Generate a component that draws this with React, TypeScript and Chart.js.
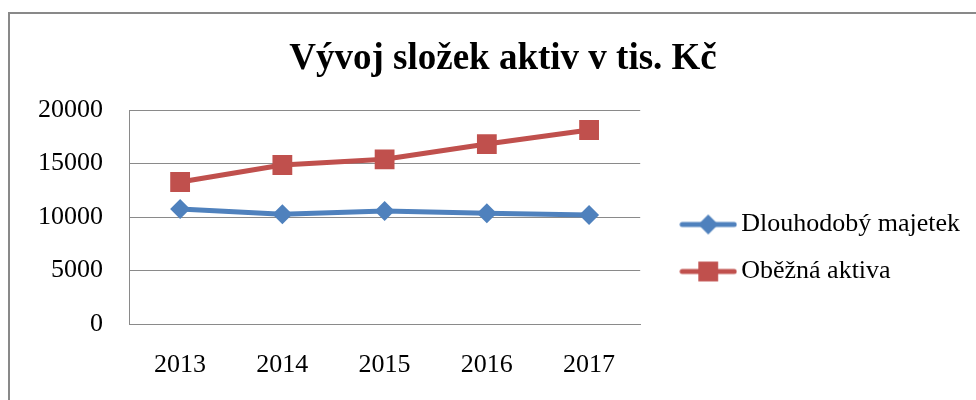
import React, { useEffect, useRef } from 'react';
import { Chart, registerables } from 'chart.js';
import { drawPoint } from 'chart.js/helpers';

Chart.register(...registerables);

const categories = ['2013', '2014', '2015', '2016', '2017'];
const dlouhodobyMajetek = [10750, 10250, 10560, 10340, 10190];
const obeznaAktiva = [13270, 14860, 15390, 16820, 18130];
const yTicks = [0, 5000, 10000, 15000, 20000];
const seriesNames = ['Dlouhodobý majetek', 'Oběžná aktiva'];
const titleText = 'Vývoj složek aktiv v tis. Kč';

const FONT = "'Liberation Serif', 'Times New Roman', serif";
const BLUE = '#4F81BD';
const RED = '#C0504D';
const GRID = '#8a8a8a';

const GAP = 27;
const DY = 31;
const TITLE_SHIFT = 34;

function makeSymbol(color: string, style: string, radius: number) {
  const c = document.createElement('canvas');
  c.width = 58;
  c.height = 30;
  const ctx = c.getContext('2d') as CanvasRenderingContext2D;
  ctx.strokeStyle = color;
  ctx.lineWidth = 5;
  ctx.lineCap = 'round';
  ctx.beginPath();
  ctx.moveTo(3, 15);
  ctx.lineTo(55, 15);
  ctx.stroke();
  ctx.fillStyle = color;
  drawPoint(ctx, { pointStyle: style as any, radius, borderWidth: 0, rotation: 0 } as any, 29, 15);
  return c;
}

const framePlugin = {
  id: 'frame',
  beforeDraw(chart: any) {
    const { ctx } = chart;
    ctx.save();
    ctx.fillStyle = '#ffffff';
    ctx.fillRect(0, 0, chart.width, chart.height);
    ctx.strokeStyle = '#898989';
    ctx.lineWidth = 2;
    ctx.strokeRect(9, 13, chart.width + 20, chart.height + 20);
    ctx.restore();
  },
};

const legendShift = {
  id: 'legendShift',
  beforeLayout(chart: any) {
    const lg = chart.legend;
    if (lg && !lg.__wrapped) {
      const f = lg.fit;
      lg.fit = function () {
        f.call(this);
        const pad = this.options.labels.padding;
        const colW = this.columnSizes && this.columnSizes[0] ? this.columnSizes[0].width : 0;
        this.width = pad + colW + GAP;
      };
      lg.__wrapped = true;
    }
  },
  afterLayout(chart: any) {
    const lg = chart.legend;
    if (lg) {
      lg.left += GAP;
      lg.top += DY;
      lg.bottom += DY;
    }
    const tb = chart.titleBlock;
    if (tb) {
      tb.left += TITLE_SHIFT;
    }
  },
};

export default function App() {
  const ref = useRef<HTMLCanvasElement | null>(null);

  useEffect(() => {
    if (!ref.current) return;
    const styles = ['rectRot', 'rect'];
    const radii = [10, 14];
    const colors = [BLUE, RED];
    const symbols = colors.map((c, i) => makeSymbol(c, styles[i], radii[i]));

    const chart = new Chart(ref.current, {
      type: 'line',
      data: {
        labels: categories,
        datasets: [dlouhodobyMajetek, obeznaAktiva].map((d, i) => ({
          label: seriesNames[i],
          data: d,
          borderColor: colors[i],
          backgroundColor: colors[i],
          borderWidth: 5,
          borderJoinStyle: 'round' as const,
          borderCapStyle: 'round' as const,
          tension: 0,
          pointStyle: styles[i] as any,
          pointRadius: radii[i],
          pointHoverRadius: radii[i],
          pointBackgroundColor: colors[i],
          pointBorderColor: colors[i],
          pointBorderWidth: 0,
          fill: false,
        })),
      },
      options: {
        animation: false,
        responsive: false,
        events: [],
        layout: { padding: { left: 12, right: 16, top: 0, bottom: 16 } },
        plugins: {
          title: {
            display: true,
            text: titleText,
            color: '#000000',
            font: { family: FONT, size: 37, weight: 'bold', lineHeight: 1.2 },
            padding: { top: 37, bottom: 28.6 },
          },
          legend: {
            display: true,
            position: 'right',
            align: 'center',
            fullSize: false,
            labels: {
              usePointStyle: true,
              pointStyleWidth: 40,
              padding: 21,
              color: '#000000',
              font: { family: FONT, size: 26 },
              generateLabels: () =>
                seriesNames.map((name, i) => ({
                  text: name,
                  fillStyle: colors[i],
                  strokeStyle: colors[i],
                  lineWidth: 0,
                  pointStyle: symbols[i] as any,
                  hidden: false,
                  datasetIndex: i,
                })),
            },
          },
          tooltip: { enabled: false },
        },
        scales: {
          x: {
            type: 'category',
            offset: true,
            grid: { display: false, drawTicks: false },
            border: { display: true, color: GRID, width: 1 },
            afterFit: (scale: any) => {
              scale.height = 60;
            },
            ticks: {
              color: '#000000',
              padding: 26,
              font: { family: FONT, size: 26 },
              maxRotation: 0,
              autoSkip: false,
            },
          },
          y: {
            type: 'linear',
            min: 0,
            max: 20000,
            afterBuildTicks: (scale: any) => {
              scale.ticks = yTicks.map((v) => ({ value: v }));
            },
            grid: { color: GRID, lineWidth: 1, drawTicks: false },
            border: { display: true, color: GRID, width: 1 },
            ticks: {
              color: '#000000',
              padding: 26,
              font: { family: FONT, size: 26 },
              callback: (v: any) => String(v),
            },
          },
        },
      },
      plugins: [framePlugin, legendShift],
    });
    return () => chart.destroy();
  }, []);

  return (
    <div style={{ position: 'absolute', left: 0, top: 0, width: 976, height: 400 }}>
      <canvas ref={ref} width={976} height={400} />
    </div>
  );
}
